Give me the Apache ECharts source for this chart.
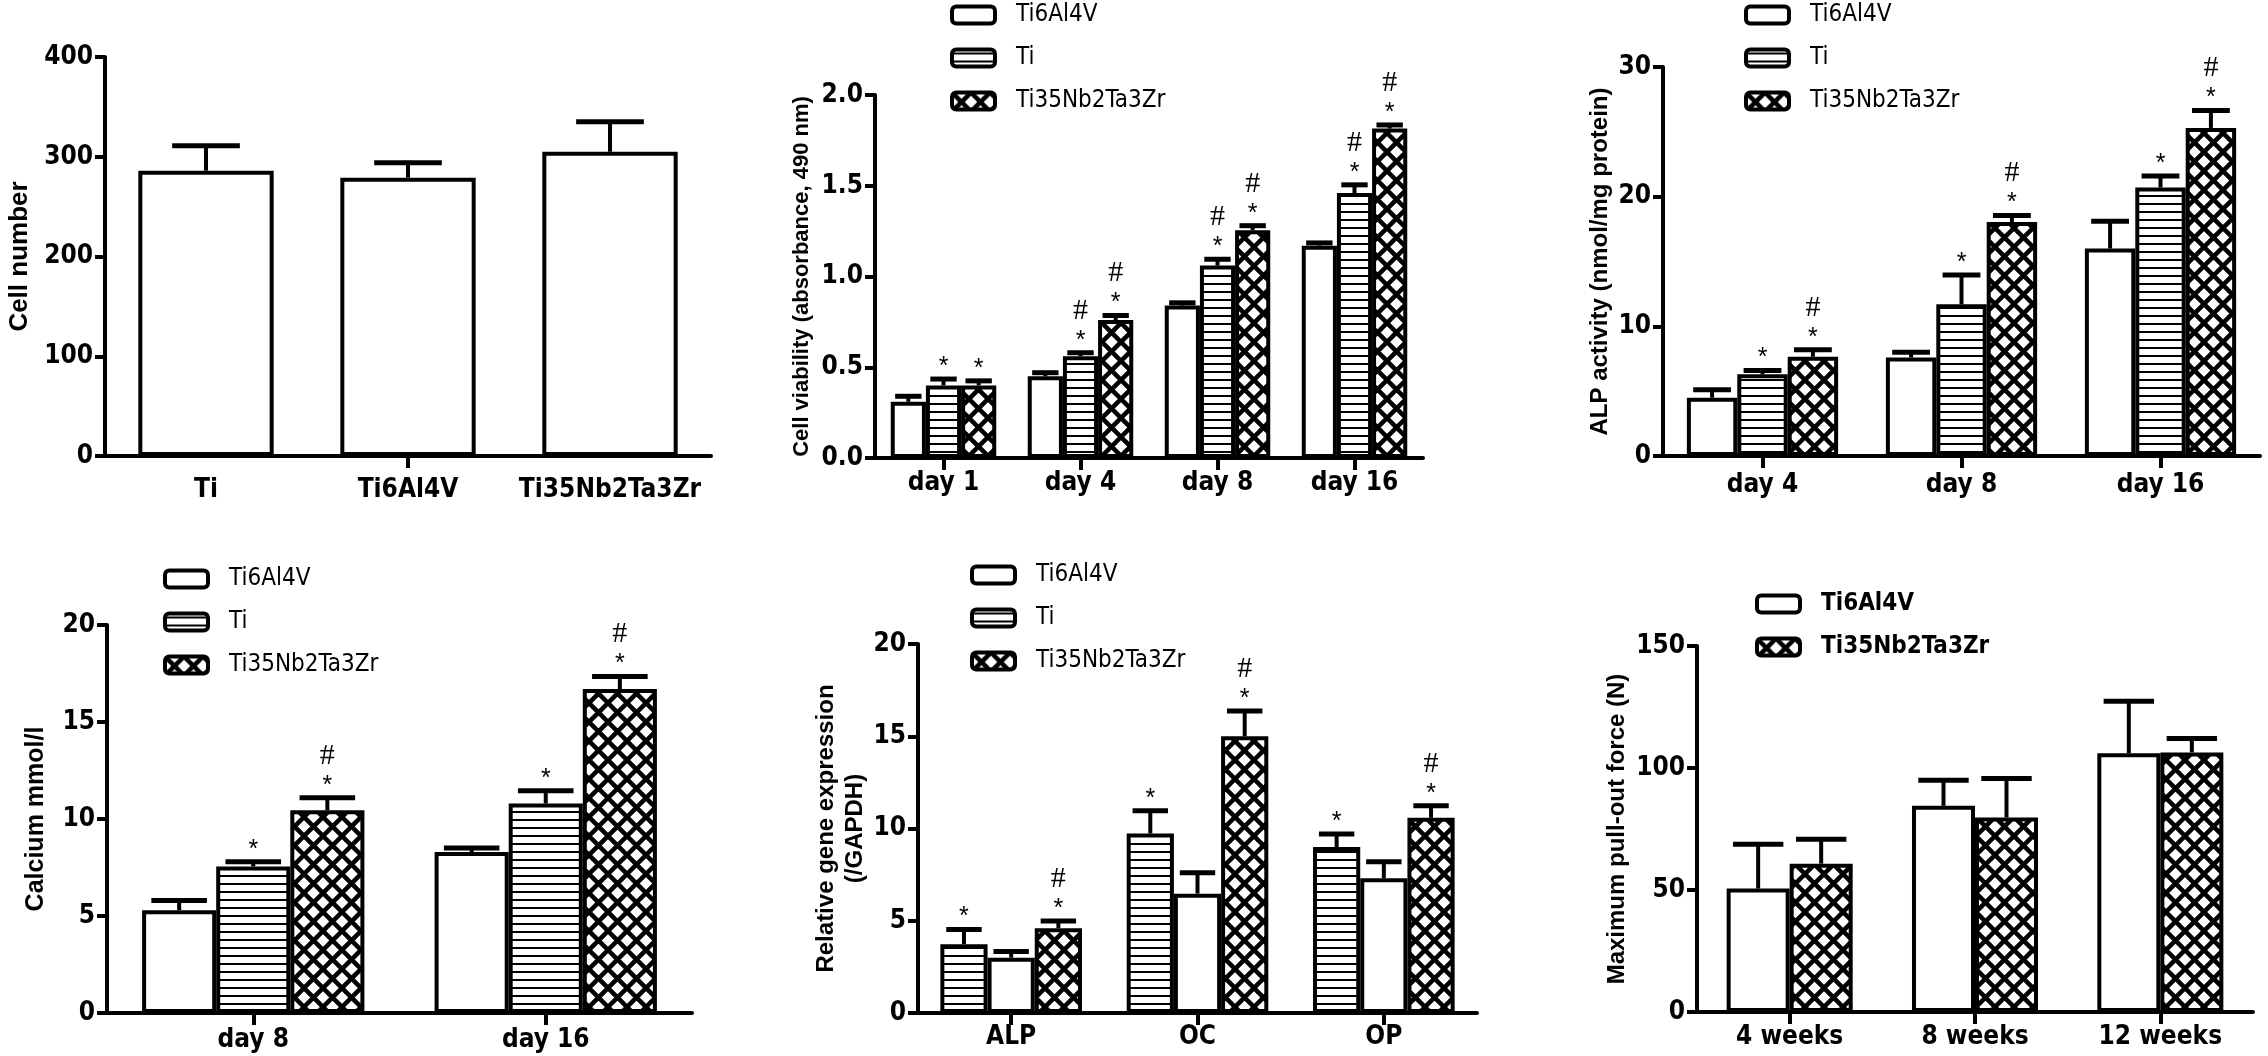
<!DOCTYPE html>
<html>
<head>
<meta charset="utf-8">
<script src="https://cdn.jsdelivr.net/npm/echarts@6/dist/echarts.min.js"></script>
<style>
  html, body { margin: 0; padding: 0; background: #fff; }
  #chart { width: 2268px; height: 1056px; }
</style>
</head>
<body>
<div id="chart"></div>
<script>
// --- Données ---

// A : nombre de cellules
const cellCats = ["Ti", "Ti6Al4V", "Ti35Nb2Ta3Zr"];
const cellMean = [286, 279, 305];
const cellSd = [25, 15, 30];

// B : viabilité cellulaire
const viaDays = ["day 1", "day 4", "day 8", "day 16"];
const viaTi6 = [0.31, 0.45, 0.84, 1.17];
const viaTi6Sd = [0.03, 0.02, 0.015, 0.015];
const viaTi = [0.40, 0.56, 1.06, 1.46];
const viaTiSd = [0.035, 0.02, 0.035, 0.045];
const viaTiNb = [0.40, 0.76, 1.255, 1.815];
const viaTiNbSd = [0.025, 0.025, 0.025, 0.02];
const viaTiMarks = ["*", "*#", "*#", "*#"];
const viaTiNbMarks = ["*", "*#", "*#", "*#"];

// C : activité ALP
const alpDays = ["day 4", "day 8", "day 16"];
const alpTi6 = [4.5, 7.6, 16.0];
const alpTi6Sd = [0.6, 0.4, 2.1];
const alpTi = [6.3, 11.7, 20.7];
const alpTiSd = [0.3, 2.25, 0.9];
const alpTiNb = [7.65, 18.05, 25.3];
const alpTiNbSd = [0.55, 0.5, 1.35];
const alpTiMarks = ["*", "*", "*"];
const alpTiNbMarks = ["*#", "*#", "*#"];

// D : calcium
const caDays = ["day 8", "day 16"];
const caTi6 = [5.3, 8.3];
const caTi6Sd = [0.5, 0.2];
const caTi = [7.55, 10.8];
const caTiSd = [0.25, 0.65];
const caTiNb = [10.45, 16.7];
const caTiNbSd = [0.65, 0.65];
const caTiMarks = ["*", "*"];
const caTiNbMarks = ["*#", "*#"];

// E : expression génique (ordre des barres : Ti, Ti6Al4V, Ti35Nb2Ta3Zr)
const genes = ["ALP", "OC", "OP"];
const geneTi = [3.73, 9.73, 9.0];
const geneTiSd = [0.8, 1.23, 0.7];
const geneTi6 = [3.0, 6.47, 7.3];
const geneTi6Sd = [0.33, 1.13, 0.9];
const geneTiNb = [4.6, 15.0, 10.58];
const geneTiNbSd = [0.38, 1.37, 0.65];
const geneTiMarks = ["*", "*", "*"];
const geneTiNbMarks = ["*#", "*#", "*#"];

// F : force d'arrachement
const weeks = ["4 weeks", "8 weeks", "12 weeks"];
const pullTi6 = [50.6, 84.5, 106.0];
const pullTi6Sd = [18.2, 10.5, 21.4];
const pullTiNb = [60.8, 79.7, 106.4];
const pullTiNbSd = [10.0, 16.0, 5.7];

// --- Motifs de remplissage ---
function makeStripes() {
  const c = document.createElement("canvas");
  c.width = 8; c.height = 8;
  const g = c.getContext("2d");
  g.fillStyle = "#fff"; g.fillRect(0, 0, 8, 8);
  g.fillStyle = "#000"; g.fillRect(0, 3, 8, 2);
  return { image: c, repeat: "repeat" };
}
function makeCross() {
  const s = 19;
  const c = document.createElement("canvas");
  c.width = s; c.height = s;
  const g = c.getContext("2d");
  g.fillStyle = "#fff"; g.fillRect(0, 0, s, s);
  g.strokeStyle = "#000"; g.lineWidth = 4.5;
  g.beginPath();
  [-1, 0, 1].forEach((k) => {
    g.moveTo(k * s, 0); g.lineTo(k * s + s, s);
    g.moveTo(k * s + s, 0); g.lineTo(k * s, s);
  });
  g.stroke();
  return { image: c, repeat: "repeat" };
}
const WHITE = "#fff";
const STRIPES = makeStripes();
const CROSS = makeCross();

const NARROW = '"Liberation Sans Narrow", "Arial Narrow", "DejaVu Sans Condensed", sans-serif';
const SANS = '"Liberation Sans", Arial, sans-serif';

// --- Géométrie des 6 panneaux ---
const grids = [
  { left: 105, top: 57, width: 606, height: 399 },
  { left: 875, top: 95, width: 548, height: 363 },
  { left: 1663, top: 67, width: 597, height: 389 },
  { left: 107, top: 625, width: 585, height: 388 },
  { left: 918, top: 644, width: 559, height: 369 },
  { left: 1697, top: 646, width: 556, height: 366 },
];

function xAxis(gi, cats, margin, onlyMiddle) {
  return {
    type: "category", gridIndex: gi, data: cats,
    axisLine: { show: true, lineStyle: { color: "#000", width: 4 } },
    axisTick: {
      show: true, alignWithLabel: true, length: 12,
      lineStyle: { color: "#000", width: 4 },
      interval: onlyMiddle ? (i) => i === 1 : 0,
    },
    axisLabel: {
      margin, color: "#000", fontFamily: NARROW, fontWeight: "bold", fontSize: 26,
      interval: 0,
    },
    splitLine: { show: false },
  };
}

function yAxis(gi, max, interval, name, nameGap, nameSize, fmt) {
  return {
    type: "value", gridIndex: gi, min: 0, max, interval,
    name, nameLocation: "middle", nameGap,
    nameTextStyle: { color: "#000", fontFamily: SANS, fontWeight: "bold", fontSize: nameSize, lineHeight: 29 },
    axisLine: { show: true, lineStyle: { color: "#000", width: 4 } },
    axisTick: { show: true, length: 10, lineStyle: { color: "#000", width: 4 } },
    axisLabel: {
      margin: 12, color: "#000", fontFamily: NARROW, fontWeight: "bold", fontSize: 26,
      formatter: fmt || ((v) => String(v)),
    },
    splitLine: { show: false },
  };
}

function bars(gi, name, values, fill, gap) {
  return {
    type: "bar", name, xAxisIndex: gi, yAxisIndex: gi, data: values,
    barGap: "0%", barCategoryGap: gap,
    itemStyle: { color: fill, borderColor: "#000", borderWidth: 4 },
    emphasis: { disabled: true },
    z: 2,
  };
}

// barre d'erreur (vers le haut seulement) + marques de significativité
function errors(gi, means, sds, marks, k, n, gap, capRatio) {
  return {
    type: "custom", xAxisIndex: gi, yAxisIndex: gi, silent: true, z: 5,
    data: means.map((m, i) => [i, m, m + sds[i]]),
    renderItem(params, api) {
      const i = api.value(0);
      const base = api.coord([i, api.value(1)]);
      const top = api.coord([i, api.value(2)]);
      const band = api.size([1, 0])[0];
      const barW = (band * (1 - gap)) / n;
      const x = base[0] + (k - (n - 1) / 2) * barW;
      const cap = (barW * capRatio) / 2;
      const children = [
        { type: "line", shape: { x1: x, y1: base[1], x2: x, y2: top[1] }, style: { stroke: "#000", lineWidth: 4 } },
        { type: "line", shape: { x1: x - cap, y1: top[1], x2: x + cap, y2: top[1] }, style: { stroke: "#000", lineWidth: 5 } },
      ];
      const m = marks ? marks[params.dataIndex] : "";
      if (m.indexOf("*") >= 0) {
        children.push({
          type: "text",
          style: { text: "*", x, y: top[1] - 12, align: "center", verticalAlign: "middle",
            fontFamily: SANS, fontSize: 25, fill: "#000" },
        });
      }
      if (m.indexOf("#") >= 0) {
        children.push({
          type: "text",
          style: { text: "#", x, y: top[1] - 42, align: "center", verticalAlign: "middle",
            fontFamily: '"Liberation Serif", "Times New Roman", serif', fontSize: 30, fill: "#000" },
        });
      }
      return { type: "group", children };
    },
  };
}

function legend(left, top, items, bold) {
  return {
    left, top, orient: "vertical", itemWidth: 43, itemHeight: 17, itemGap: 17,
    icon: "roundRect", selectedMode: false,
    itemStyle: { borderColor: "#000", borderWidth: 4 },
    textStyle: {
      color: "#000", fontFamily: NARROW, fontSize: 24, fontWeight: bold ? "bold" : "normal",
      padding: [0, 0, 0, 16], lineHeight: 26,
    },
    data: items.map(([name, color]) => ({ name, itemStyle: { color } })),
  };
}

const legend3 = [["Ti6Al4V", WHITE], ["Ti", STRIPES], ["Ti35Nb2Ta3Zr", CROSS]];

const G = 0.24;
const option = {
  animation: false,
  backgroundColor: "#fff",
  grid: grids.map((g) => Object.assign({ containLabel: false, outerBoundsMode: "none" }, g)),
  legend: [
    legend(945, -3, legend3, false),
    legend(1739, -3, legend3, false),
    legend(158, 561, legend3, false),
    legend(965, 557, legend3, false),
    legend(1750, 586, [["Ti6Al4V", WHITE], ["Ti35Nb2Ta3Zr", CROSS]], true),
  ],
  xAxis: [
    xAxis(0, cellCats, 21, true),
    xAxis(1, viaDays, 12),
    xAxis(2, alpDays, 16),
    xAxis(3, caDays, 14),
    xAxis(4, genes, 11),
    xAxis(5, weeks, 12),
  ],
  yAxis: [
    yAxis(0, 400, 100, "Cell number", 71, 26),
    yAxis(1, 2.0, 0.5, "Cell viability (absorbance, 490 nm)", 59, 22, (v) => v.toFixed(1)),
    yAxis(2, 30, 10, "ALP activity (nmol/mg protein)", 48, 24),
    yAxis(3, 20, 5, "Calcium mmol/l", 56, 25),
    yAxis(4, 20, 5, "Relative gene expression\n(/GAPDH)", 47, 24),
    yAxis(5, 150, 50, "Maximum pull-out force (N)", 65, 24),
  ],
  series: [
    // A
    bars(0, "Cell number", cellMean, WHITE, "33%"),
    errors(0, cellMean, cellSd, null, 0, 1, 0.33, 0.5),
    // B
    bars(1, "Ti6Al4V", viaTi6, WHITE, "23%"),
    bars(1, "Ti", viaTi, STRIPES, "23%"),
    bars(1, "Ti35Nb2Ta3Zr", viaTiNb, CROSS, "23%"),
    errors(1, viaTi6, viaTi6Sd, null, 0, 3, 0.23, 0.75),
    errors(1, viaTi, viaTiSd, viaTiMarks, 1, 3, 0.23, 0.75),
    errors(1, viaTiNb, viaTiNbSd, viaTiNbMarks, 2, 3, 0.23, 0.75),
    // C
    bars(2, "Ti6Al4V", alpTi6, WHITE, "24%"),
    bars(2, "Ti", alpTi, STRIPES, "24%"),
    bars(2, "Ti35Nb2Ta3Zr", alpTiNb, CROSS, "24%"),
    errors(2, alpTi6, alpTi6Sd, null, 0, 3, G, 0.75),
    errors(2, alpTi, alpTiSd, alpTiMarks, 1, 3, G, 0.75),
    errors(2, alpTiNb, alpTiNbSd, alpTiNbMarks, 2, 3, G, 0.75),
    // D
    bars(3, "Ti6Al4V", caTi6, WHITE, "24%"),
    bars(3, "Ti", caTi, STRIPES, "24%"),
    bars(3, "Ti35Nb2Ta3Zr", caTiNb, CROSS, "24%"),
    errors(3, caTi6, caTi6Sd, null, 0, 3, G, 0.75),
    errors(3, caTi, caTiSd, caTiMarks, 1, 3, G, 0.75),
    errors(3, caTiNb, caTiNbSd, caTiNbMarks, 2, 3, G, 0.75),
    // E
    bars(4, "Ti", geneTi, STRIPES, "24%"),
    bars(4, "Ti6Al4V", geneTi6, WHITE, "24%"),
    bars(4, "Ti35Nb2Ta3Zr", geneTiNb, CROSS, "24%"),
    errors(4, geneTi, geneTiSd, geneTiMarks, 0, 3, G, 0.75),
    errors(4, geneTi6, geneTi6Sd, null, 1, 3, G, 0.75),
    errors(4, geneTiNb, geneTiNbSd, geneTiNbMarks, 2, 3, G, 0.75),
    // F
    bars(5, "Ti6Al4V", pullTi6, WHITE, "32%"),
    bars(5, "Ti35Nb2Ta3Zr", pullTiNb, CROSS, "32%"),
    errors(5, pullTi6, pullTi6Sd, null, 0, 2, 0.32, 0.8),
    errors(5, pullTiNb, pullTiNbSd, null, 1, 2, 0.32, 0.8),
  ],
};

const chart = echarts.init(document.getElementById("chart"));
chart.setOption(option);
</script>
</body>
</html>
